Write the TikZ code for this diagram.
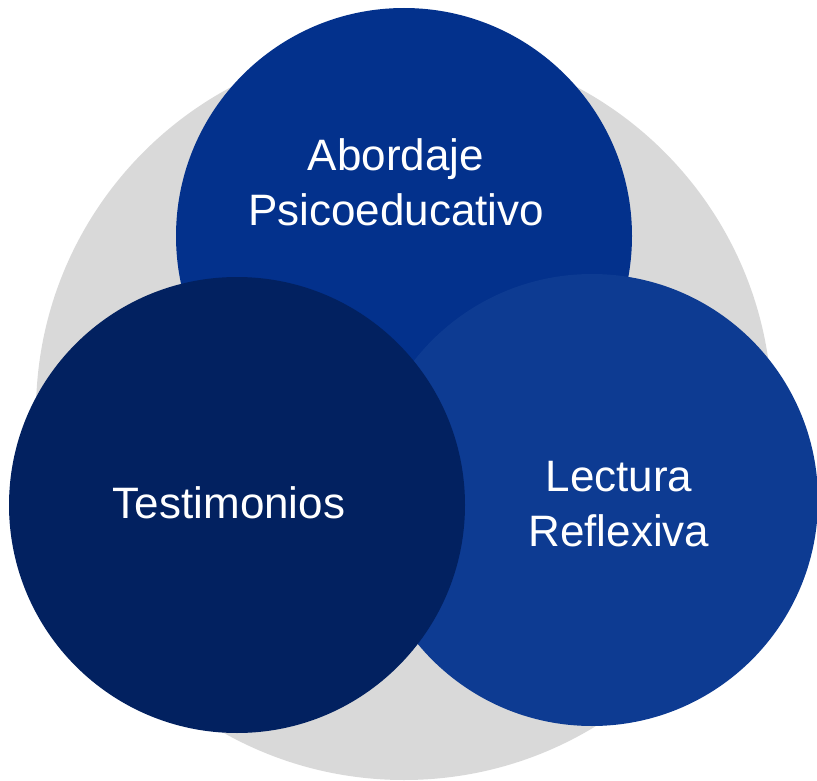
\documentclass[tikz,border=0pt]{standalone}
\usepackage{fontspec}
\setmainfont{Liberation Sans}
\definecolor{grayc}{HTML}{D9D9D9}
\definecolor{topc}{HTML}{03318C}
\definecolor{rightc}{HTML}{0D3B92}
\definecolor{leftc}{HTML}{022160}
\tikzset{
  bubble/.style={circle, inner sep=0pt, draw=none, minimum size=#1},
  label/.style={text=white, align=center, font=\fontsize{44pt}{55pt}\selectfont, inner sep=0pt}
}
\begin{document}
\begin{tikzpicture}[x=1pt, y=-1pt]
\useasboundingbox (0,0) rectangle (817,781);
\node[bubble=736pt, fill=grayc] (back) at (404,412) {};
\node[bubble=456pt, fill=topc] (topc) at (404,236) {};
\node[bubble=452pt, fill=rightc] (rightc) at (592,500) {};
\node[bubble=456pt, fill=leftc] (leftc) at (237,505) {};
\node[label] (tlab) at (396,182) {Abordaje\\Psicoeducativo};
\node[label] (rlab) at (619,504) {Lectura\\Reflexiva};
\node[label] (llab) at (229,503) {Testimonios};
\end{tikzpicture}
\end{document}
